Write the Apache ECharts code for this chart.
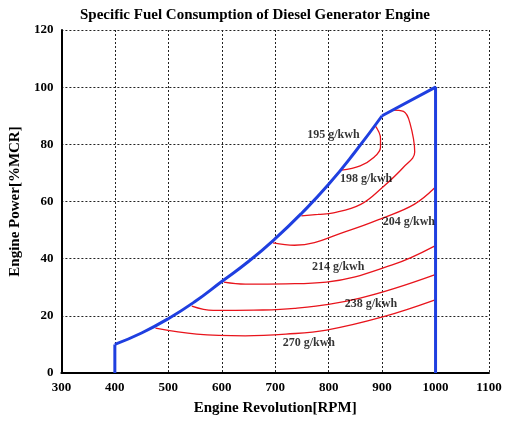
<!DOCTYPE html><html><head><meta charset="utf-8"><script src="https://cdn.jsdelivr.net/npm/echarts@6/dist/echarts.min.js"></script></head><body style="margin:0"><div id="c" style="width:510px;height:421px"></div><script>
const boundaryCurve=[[400,10],[450,14],[500,19],[550,25],[600,32],[650,39],[700,47],[750,56],[800,66],[850,77.5],[900,90]];
const boundaryLines=[[400,0],[400,10],null,[900,90],[1000,100],[1000,0]];
const c270=[[476,15.7],[553,13.6],[644,13],[720,13.6],[796,15],[901,19.6],[998,25.5]];
const c238=[[544,23.4],[584,21.9],[660,22],[736,22.6],[859,26.2],[998,34.3]];
const c214=[[604,31.8],[644,31.1],[720,31.2],[796,31.8],[919,37.8],[998,44.4]];
const c204=[[696,45.5],[736,44.7],[840,50],[901,54.2],[960,59],[998,64.7]];
const c198=[[749,55],[780,55.5],[809,56],[860,59],[901,65],[940,72],[961,77.3],[952,87.5],[940,91.5],[919,92]];
const c195=[[824,71],[859,72.5],[885,75.5],[897,79],[897,82],[886,86.8]];
const labels=[[809,83.3,'195 g/kwh'],[870,68,'198 g/kwh'],[950,53,'204 g/kwh'],[818,37,'214 g/kwh'],[879,24,'238 g/kwh'],[763,10.5,'270 g/kwh']];
const ser=(d)=>({type:'line',data:d,smooth:0.4,symbol:'none',lineStyle:{color:'#e8141c',width:1.3}});
const ch=echarts.init(document.getElementById('c'));
const f='"Liberation Serif", "Times New Roman", serif';
const blue={color:'#1f3fe0',width:3};
ch.setOption({animation:false,
title:{text:'Specific Fuel Consumption of Diesel Generator Engine',left:'center',top:3,textStyle:{fontFamily:f,fontSize:15,fontWeight:'bold',color:'#000'}},
grid:{left:52,right:21,top:30,bottom:48},
xAxis:{type:'value',min:300,max:1100,interval:100,name:'Engine Revolution[RPM]',nameLocation:'middle',nameGap:28,nameTextStyle:{fontFamily:f,fontSize:15,fontWeight:'bold',color:'#000'},axisLine:{lineStyle:{color:'#000',width:2}},axisTick:{show:false},axisLabel:{formatter:v=>String(v),fontFamily:f,fontSize:13,fontWeight:'bold',color:'#000'},splitLine:{lineStyle:{color:'#222',type:[2,2]}}},
yAxis:{type:'value',min:0,max:120,interval:20,name:'Engine Power[%MCR]',nameLocation:'middle',nameGap:30,nameTextStyle:{fontFamily:f,fontSize:15,fontWeight:'bold',color:'#000'},axisLine:{show:true,lineStyle:{color:'#000',width:2}},axisTick:{show:false},axisLabel:{formatter:v=>String(v),fontFamily:f,fontSize:13,fontWeight:'bold',color:'#000'},splitLine:{lineStyle:{color:'#222',type:[2,2]}}},
series:[ser(c270),ser(c238),ser(c214),ser(c204),ser(c198),ser(c195),
{type:'line',data:boundaryCurve,smooth:true,symbol:'none',lineStyle:blue,z:5},
{type:'line',data:boundaryLines,connectNulls:false,symbol:'none',lineStyle:blue,z:5},
{type:'scatter',symbolSize:0,data:labels.map(l=>[l[0],l[1],l[2]]),label:{show:true,formatter:p=>p.data[2],fontFamily:f,fontSize:12,fontWeight:'bold',color:'#000'},z:6}]});
</script></body></html>
